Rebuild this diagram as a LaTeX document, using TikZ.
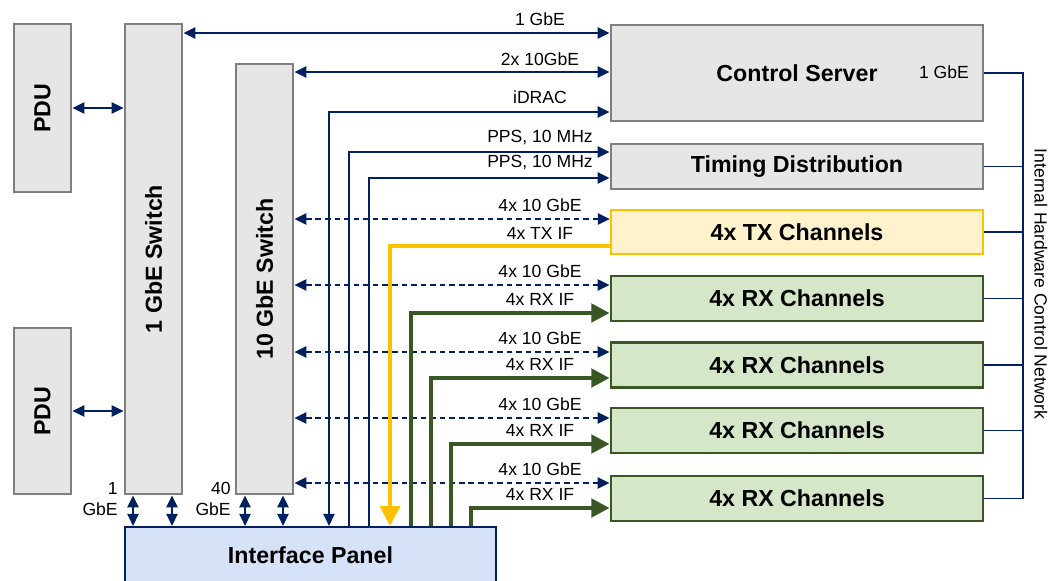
\documentclass[tikz,border=0pt]{standalone}
\usepackage{fontspec}
\setmainfont{Liberation Sans}
\usetikzlibrary{arrows.meta, positioning, calc}
\definecolor{navy}{HTML}{002060}
\definecolor{boxgray}{HTML}{7F7F7F}
\definecolor{boxfill}{HTML}{E6E6E6}
\definecolor{txline}{HTML}{FFC000}
\definecolor{txfill}{HTML}{FFF2CC}
\definecolor{rxline}{HTML}{385723}
\definecolor{rxfill}{HTML}{D6E7C9}
\definecolor{panelfill}{HTML}{D5E2F8}

\begin{document}
\begin{tikzpicture}[
    x=0.025cm, y=-0.025cm,
    >={Triangle[length=8.5pt, width=8pt]},
    font=\fontsize{12.5}{15}\selectfont,
    hw/.style={draw=boxgray, fill=boxfill, line width=2pt, inner sep=0pt, font=\fontsize{16.5}{18}\selectfont\bfseries},
    tall/.style={hw, minimum width=1.425cm},
    wide/.style={hw, minimum width=9.3cm},
    txbox/.style={wide, draw=txline, fill=txfill, line width=1.6pt, minimum height=1.1cm},
    rxbox/.style={wide, draw=rxline, fill=rxfill, minimum height=1.125cm},
    panel/.style={hw, draw=navy, fill=panelfill, line width=1.6pt, minimum width=9.275cm, minimum height=1.4cm},
    lbl/.style={inner sep=0pt},
    link/.style={navy, line width=1.3pt},
    dlink/.style={link, dash pattern=on 4pt off 2.8pt},
    txif/.style={txline, line width=3pt, -{Triangle[length=14pt, width=14pt]}},
    rxif/.style={rxline, line width=3pt, -{Triangle[length=13pt, width=13pt]}}
  ]
    \clip (0,0) rectangle (1062,580);
    % hardware boxes
    \node[tall, minimum height=4.2cm] (pdua) at (42.5,108) {\rotatebox{90}{PDU}};
    \node[tall, minimum height=4.15cm] (pdub) at (42.5,411) {\rotatebox{90}{PDU}};
    \node[tall, minimum height=11.75cm] (swa) at (153.5,259) {\rotatebox{90}{1 GbE Switch}};
    \node[tall, minimum height=10.75cm] (swb) at (264.5,279) {\rotatebox{90}{10 GbE Switch}};
    \node[wide, minimum height=2.4cm] (srv) at (797,73) {Control Server};
    \node[wide, minimum height=1.125cm] (tim) at (797,166.5) {Timing Distribution};
    \node[txbox] (tx) at (797,232) {4x TX Channels};
    \foreach \n/\y in {1/298.5, 2/365, 3/430.5, 4/498.5}
      \node[rxbox] (rx\n) at (797,\y) {4x RX Channels};
    \node[panel] (panel) at (310.5,555) {Interface Panel};
    % power and switch links
    \draw[link, <->] (pdua.east) -- (swa.west |- pdua.east);
    \draw[link, <->] (pdub.east) -- (swa.west |- pdub.east);
    \foreach \x in {133, 172, 245, 283}
      \draw[link, <->] (swa.south -| \x,0) -- (panel.north -| \x,0);
    \node[lbl, align=right, anchor=east] (gbeone) at (118,499) {1\\GbE};
    \node[lbl, align=right, anchor=east] (gbeforty) at (231,499) {40\\GbE};
    % server and timing links
    \draw[link, <->] (swa.east |- 0,33) -- (srv.west |- 0,33);
    \node[lbl] (lgbe) at (540,19) {1 GbE};
    \draw[link, <->] (swb.east |- 0,72) -- (srv.west |- 0,72);
    \node[lbl] (ltengbe) at (540,59) {2x 10GbE};
    \draw[link, <->] (panel.north -| 329,0) |- (srv.west |- 0,112);
    \node[lbl] (lidrac) at (540,97) {iDRAC};
    \draw[link, ->] (panel.north -| 349,0) |- (tim.west |- 0,152);
    \node[lbl] (lppsa) at (540,137) {PPS, 10 MHz};
    \draw[link, ->] (panel.north -| 369,0) |- (tim.west |- 0,178);
    \node[lbl] (lppsb) at (540,162) {PPS, 10 MHz};
    \node[lbl] (lsrvgbe) at (944,72) {1 GbE};
    % channel links
    \foreach \b/\d in {tx/219, rx1/285, rx2/352, rx3/418, rx4/483} {
      \draw[dlink, <->] (swb.east |- 0,\d) -- (\b.west |- 0,\d);
      \node[lbl] (ge\b) at (540,{\d-14}) {4x 10 GbE};
    }
    \draw[txif] (tx.west |- 0,246) -| (panel.north -| 390,0);
    \node[lbl] (iftx) at (540,233) {4x TX IF};
    \foreach \b/\f/\v in {rx1/313/411, rx2/378/431, rx3/444/451, rx4/508/471} {
      \draw[rxif] (panel.north -| \v,0) |- (\b.west |- 0,\f);
      \node[lbl] (if\b) at (540,{\f-14}) {4x RX IF};
    }
    % internal control network
    \coordinate (bus) at (1023,0);
    \draw[link] (srv.east) -| (bus |- rx4.east) -- (rx4.east);
    \foreach \b in {tim, tx, rx1, rx2, rx3}
      \draw[link] (\b.east) -- (bus |- \b.east);
    \node[lbl, rotate=-90] (lnet) at (1041,284) {Internal Hardware Control Network};
  \end{tikzpicture}
\end{document}
